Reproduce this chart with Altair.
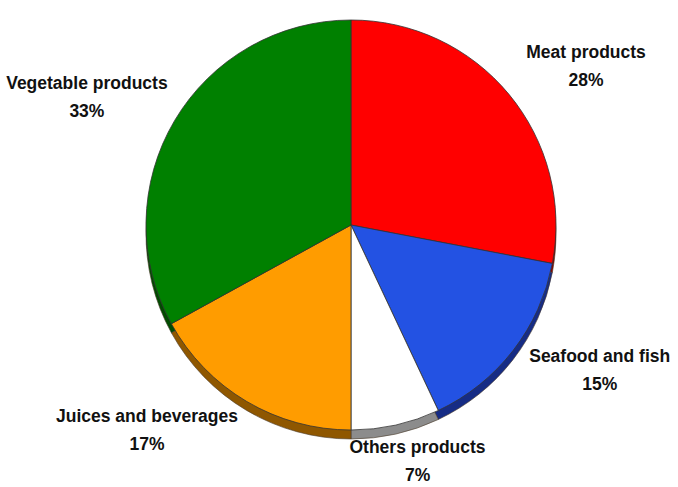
import altair as alt
import pandas as pd

categories = ["Meat products", "Seafood and fish", "Others products",
              "Juices and beverages", "Vegetable products"]
shares = [28, 15, 7, 17, 33]
order = [1, 2, 3, 4, 5]
colors = ["#FF0000", "#2352E3", "#FFFFFF", "#FF9C00", "#008000"]
shadow_colors = ["#8A0000", "#162C85", "#8C8C8C", "#8F5700", "#004C00"]

df = pd.DataFrame({"category": categories, "share": shares, "order": order})

W, H = 678, 487
CX, CY, R, SH = 351, 225, 205, 9
CYS, RS = CY + SH / 2, R + SH / 2  # pie incl. its shadow rim

theta = alt.Theta("share:Q", stack=True)
ord_enc = alt.Order("order:Q", sort="ascending")

shadow = alt.Chart(df).mark_arc(
    x=CX, y=CY + SH, outerRadius=R, stroke="#4a3a2a", strokeWidth=0.6
).encode(
    theta=theta,
    order=ord_enc,
    color=alt.Color("category:N", scale=alt.Scale(domain=categories, range=shadow_colors), legend=None),
)

pie = alt.Chart(df).mark_arc(
    x=CX, y=CY, outerRadius=R, stroke="#333333", strokeWidth=0.8
).encode(
    theta=theta,
    order=ord_enc,
    color=alt.Color("category:N", scale=alt.Scale(domain=categories, range=colors), legend=None),
)

labels = alt.Chart(df).transform_window(
    cum="sum(share)", sort=[alt.SortField("order", order="ascending")]
).transform_joinaggregate(
    total="sum(share)"
).transform_calculate(
    mid="2*PI*(datum.cum - datum.share/2)/datum.total"
).transform_calculate(
    s="sin(datum.mid)",
    c="cos(datum.mid)",
    w="length(datum.category)*8.9",
).transform_calculate(
    cx0=f"{CX} + 305*datum.s",
    cy0=f"{CY - 3} - 243*datum.c",
).transform_calculate(
    near=f"(datum.cy0 - 24) > {CYS} ? (datum.cy0 - 24 - {CYS}) : ((datum.cy0 + 24) < {CYS} ? ({CYS} - datum.cy0 - 24) : 0)",
).transform_calculate(
    clr=f"abs(datum.cy0 - {CYS}) < {RS} ? sqrt(max(0, {RS}*{RS} - datum.near*datum.near)) + 4 : 0",
).transform_calculate(
    cx1=f"datum.clr > 0 ? (datum.s < 0 ? min(datum.cx0, {CX} - datum.clr - datum.w/2) : max(datum.cx0, {CX} + datum.clr + datum.w/2)) : datum.cx0",
).transform_calculate(
    lx=f"clamp(datum.cx1, datum.w/2 + 2, {W} - datum.w/2 - 2)",
).transform_calculate(
    nx=f"clamp({CX}, datum.lx - datum.w/2, datum.lx + datum.w/2) - {CX}",
    ny=f"clamp({CYS}, datum.cy0 - 24, datum.cy0 + 24) - {CYS}",
).transform_calculate(
    cy1=f"(datum.nx*datum.nx + datum.ny*datum.ny < {RS}*{RS}) && datum.cy0 > {CYS} ? max(datum.cy0, {CYS} + sqrt({RS}*{RS} - datum.nx*datum.nx) + 2 + 24) : datum.cy0",
).transform_calculate(
    ly=f"min(datum.cy1, {H} - 25) - 14",
    txt="[datum.category, datum.share + '%']",
).mark_text(
    font="Liberation Sans", fontWeight="bold", fontSize=17.5, lineHeight=28,
    color="#111111", baseline="middle", align="center"
).encode(
    x=alt.X("lx:Q", scale=None),
    y=alt.Y("ly:Q", scale=None),
    text="txt:N",
)

chart = alt.layer(shadow, pie, labels).resolve_scale(color="independent").properties(
    width=W, height=H, padding=0, autosize=alt.AutoSizeParams(type="none")
).configure_view(stroke=None)

chart.save("out.html", embed_options={"renderer": "svg", "actions": False})
